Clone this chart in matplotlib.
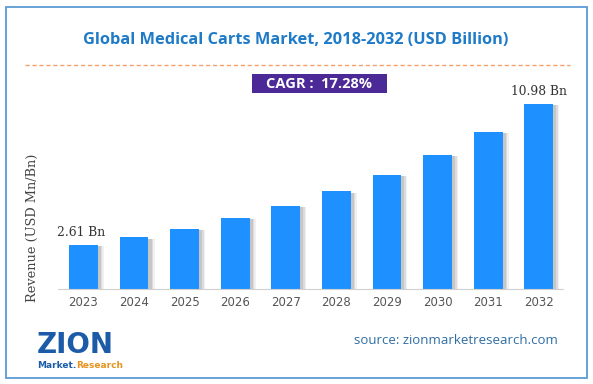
import numpy as np
import matplotlib
matplotlib.use("Agg")
import matplotlib.pyplot as plt
from matplotlib.patches import Rectangle

years = ["2023", "2024", "2025", "2026", "2027", "2028", "2029", "2030", "2031", "2032"]
revenue = [2.61, 3.06, 3.59, 4.21, 4.94, 5.79, 6.79, 7.96, 9.34, 10.98]
first_label = "2.61 Bn"
last_label = "10.98 Bn"
title = "Global Medical Carts Market, 2018-2032 (USD Billion)"
cagr = "CAGR :  17.28%"
ylabel = "Revenue (USD Mn/Bn)"
source = "source: zionmarketresearch.com"

W, H = 593, 384
fig = plt.figure(figsize=(W / 100, H / 100), dpi=100)
fig.patch.set_facecolor("white")

def px(x, y):
    return x / W, 1 - y / H

# outer blue frame
fig.patches.append(Rectangle(px(6, 378), 581 / W, 371 / H, transform=fig.transFigure,
                             fill=False, edgecolor="#5B9BD5", linewidth=1.3))

fig.text(*px(296, 40), title, ha="center", va="center", fontsize=11.8,
         fontweight="bold", color="#1F7BC8", family="Open Sans")
fig.add_artist(plt.Line2D([25 / W, 570 / W], [1 - 65 / H] * 2, transform=fig.transFigure,
                          color="#F4A06A", linestyle=(0, (3, 2)), linewidth=1))

# CAGR box
fig.patches.append(Rectangle(px(252, 93), 135 / W, 19 / H, transform=fig.transFigure,
                             facecolor="#4B2996", edgecolor="none"))
fig.text(*px(319.5, 83.5), cagr, ha="center", va="center", fontsize=10.5,
         fontweight="bold", color="white", family="Open Sans")

# bar axes
ax = fig.add_axes([58 / W, (H - 289) / H, 505 / W, 189 / H])
x = np.arange(len(years))
# soft shadow to the right of each bar
for k, a in [(0.12, 0.10), (0.09, 0.15), (0.06, 0.2)]:
    ax.bar(x + k, np.array(revenue) - 0.08, width=0.57, bottom=0, color="#707070",
           alpha=a, zorder=1)
ax.bar(x, revenue, width=0.57, color="#1E90FF", zorder=2)
ax.set_xlim(-0.504, 9.48)
ax.set_ylim(0, 11.22)
ax.set_xticks(x)
ax.set_xticklabels(years, fontsize=8.5, color="#555555", family="DejaVu Sans")
ax.tick_params(axis="x", length=0, pad=5)
ax.set_yticks([])
for s in ["top", "right", "left"]:
    ax.spines[s].set_visible(False)
ax.spines["bottom"].set_color("#D0D0D0")
ax.set_facecolor("none")
ax.text(x[0] - 0.05, revenue[0] + 0.35, first_label, ha="center", va="bottom",
        fontsize=8.8, family="DejaVu Serif", color="#333333")
ax.text(x[-1], revenue[-1] + 0.35, last_label, ha="center", va="bottom",
        fontsize=8.8, family="DejaVu Serif", color="#333333")

fig.text(*px(32, 228), ylabel, rotation=90, ha="center", va="center",
         fontsize=9.3, family="DejaVu Serif", color="#444444")

# logo approximation
fig.text(*px(37, 353), "ZION", ha="left", va="baseline", fontsize=20,
         fontweight="bold", color="#1C5BA8", family="DejaVu Sans")
fig.text(*px(37, 368), "Market.", ha="left", va="baseline", fontsize=6.5,
         fontweight="bold", color="#1C5BA8", family="DejaVu Sans")
fig.text(*px(123, 368), "Research", ha="right", va="baseline", fontsize=6.5,
         fontweight="bold", color="#E8931E", family="DejaVu Sans")

fig.text(*px(558, 341), source, ha="right", va="center", fontsize=9.5,
         color="#2E6DA4", family="Open Sans")

fig.savefig("out.png", dpi=100)
